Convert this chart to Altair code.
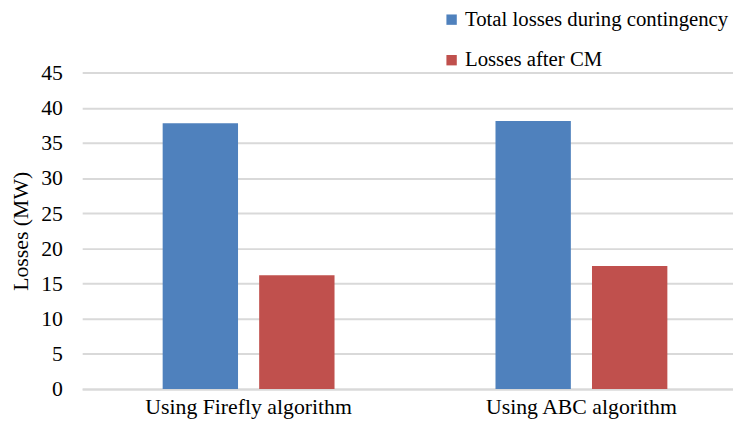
import altair as alt
import pandas as pd

categories = ["Using Firefly algorithm", "Using ABC algorithm"]
series = ["Total losses during contingency", "Losses after CM"]
total_losses = [37.8, 38.1]
losses_after_cm = [16.2, 17.5]
colors = ["#4F81BD", "#C0504D"]

rows = []
for i, c in enumerate(categories):
    rows.append({"cat": c, "series": series[0], "value": total_losses[i]})
    rows.append({"cat": c, "series": series[1], "value": losses_after_cm[i]})
df = pd.DataFrame(rows)

FONT = "Liberation Serif"
FS = 22

chart = alt.Chart(df).mark_bar().encode(
    x=alt.X("cat:N", sort=categories, title=None,
            scale=alt.Scale(range=[2, 675], paddingInner=0, paddingOuter=0),
            axis=alt.Axis(labelAngle=0, labelFontSize=FS, labelFont=FONT, labelColor="#000000",
                          labelLimit=400, ticks=False, domain=True, domainColor="#D9D9D9",
                          domainWidth=2, labelPadding=8)),
    xOffset=alt.XOffset("series:N", sort=series,
                        scale=alt.Scale(paddingInner=0.219, paddingOuter=0.834)),
    y=alt.Y("value:Q", title="Losses (MW)",
            scale=alt.Scale(domain=[0, 45], nice=False),
            axis=alt.Axis(values=list(range(0, 50, 5)), labelFontSize=FS, labelFont=FONT,
                          labelColor="#000000", ticks=False, domain=False, labelPadding=18,
                          titleFont=FONT, titleFontSize=FS, titleFontWeight="normal",
                          titleColor="#000000", titlePadding=8,
                          gridColor="#D9D9D9", gridWidth=2)),
    color=alt.Color("series:N", sort=series,
                    scale=alt.Scale(domain=series, range=colors),
                    legend=alt.Legend(title=None, orient="none", legendX=365, legendY=-64,
                                      symbolType="square", symbolSize=110, symbolStrokeWidth=0,
                                      labelFont=FONT, labelFontSize=21, labelColor="#000000",
                                      labelLimit=400, rowPadding=19, labelOffset=3)),
).properties(
    width=660, height=320,
    padding={"left": 73, "top": 63, "right": 0, "bottom": 30},
    autosize=alt.AutoSizeParams(type="none"),
).configure_view(stroke=None)

chart.save("out.html", embed_options={"renderer": "svg", "actions": False})
